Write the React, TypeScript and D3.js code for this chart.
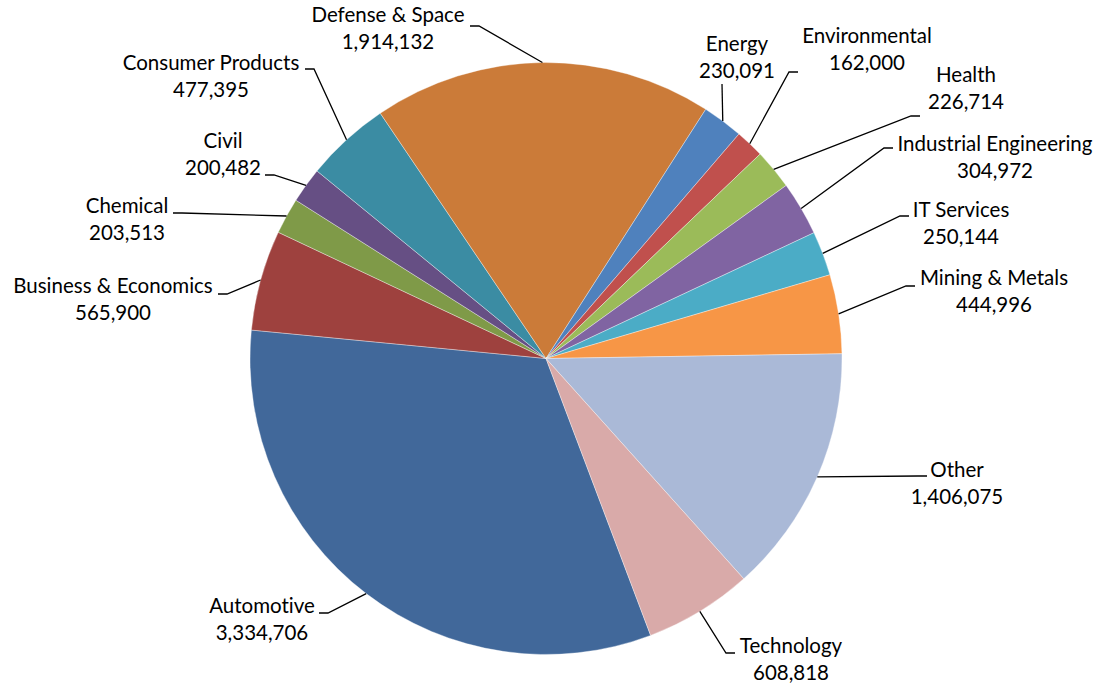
// react
import { useEffect, useRef } from "react";

// d3
import * as d3 from "d3";

// data
const categories = [
  "Automotive",
  "Business & Economics",
  "Chemical",
  "Civil",
  "Consumer Products",
  "Defense & Space",
  "Energy",
  "Environmental",
  "Health",
  "Industrial Engineering",
  "IT Services",
  "Mining & Metals",
  "Other",
  "Technology",
];

const values = [
  3334706, 565900, 203513, 200482, 477395, 1914132, 230091, 162000, 226714,
  304972, 250144, 444996, 1406075, 608818,
];

const COLORS = [
  "#41689A",
  "#9E413E",
  "#7F9A48",
  "#664F84",
  "#3B8CA3",
  "#CB7B39",
  "#4F81BD",
  "#C0504D",
  "#9BBB59",
  "#8064A2",
  "#4BACC6",
  "#F79646",
  "#AAB9D7",
  "#D9AAA9",
];

// label layout: text centre x, first baseline y, leader start (x, y), tick direction
const LABELS: [number, number, number, number, number][] = [
  [262, 613, 319, 613, 1],
  [113, 293, 218, 294, 1],
  [127, 213, 173, 213, 1],
  [223, 148, 265, 175, 1],
  [211, 70, 305, 69, 1],
  [388, 22, 470, 26, 1],
  [737, 51, 722, 84, 0],
  [867, 43, 798, 72, -1],
  [966, 82, 920, 116, -1],
  [995, 151, 893, 148, -1],
  [961, 217, 909, 216, -1],
  [994, 285, 915, 286, -1],
  [957, 477, 927, 476, -1],
  [791, 653, 735, 653, -1],
];

export default function App() {
  const ref = useRef<SVGSVGElement>(null);

  useEffect(() => {
    if (!ref.current) return;
    const svg = d3.select(ref.current);
    svg.selectAll("*").remove();

    const W = 1098;
    const H = 687;
    const cx = 546;
    const cy = 358.5;
    const r = 296;
    const start = (159.3 * Math.PI) / 180;

    svg.attr("width", W).attr("height", H).attr("viewBox", `0 0 ${W} ${H}`);

    const pie = d3
      .pie<number>()
      .sort(null)
      .startAngle(start)
      .endAngle(start + 2 * Math.PI);
    const arcs = pie(values);

    const arc = d3.arc<d3.PieArcDatum<number>>().innerRadius(0).outerRadius(r);
    const edge = d3
      .arc<d3.PieArcDatum<number>>()
      .innerRadius(r)
      .outerRadius(r);

    const g = svg.append("g").attr("transform", `translate(${cx},${cy})`);

    // Slices
    g.selectAll("path")
      .data(arcs)
      .join("path")
      .attr("d", arc)
      .attr("fill", (_, i) => COLORS[i])
      .attr("stroke", "#ffffff")
      .attr("stroke-opacity", 0.6)
      .attr("stroke-width", 0.6);

    // Leader lines + labels
    const fmt = d3.format(",");
    arcs.forEach((a, i) => {
      const [tx, ty, lx, ly, dir] = LABELS[i];
      const [ex, ey] = edge.centroid(a);
      const pts: [number, number][] = [[lx, ly]];
      if (dir !== 0) pts.push([lx + dir * 9, ly]);
      pts.push([ex + cx, ey + cy]);
      svg
        .append("path")
        .attr("d", d3.line()(pts))
        .attr("fill", "none")
        .attr("stroke", "#000")
        .attr("stroke-width", 1.3);

      const t = svg
        .append("text")
        .attr("text-anchor", "middle")
        .attr("font-family", "Lato, 'Open Sans', sans-serif")
        .attr("font-size", 20.5)
        .style("font-variant-ligatures", "none")
        .attr("fill", "#000");
      t.append("tspan").attr("x", tx).attr("y", ty).text(categories[i]);
      t.append("tspan")
        .attr("x", tx)
        .attr("y", ty + 27)
        .text(fmt(values[i]));
    });
  }, []);

  return (
    <svg
      ref={ref}
      style={{ position: "absolute", left: 0, top: 0, display: "block" }}
    />
  );
}
